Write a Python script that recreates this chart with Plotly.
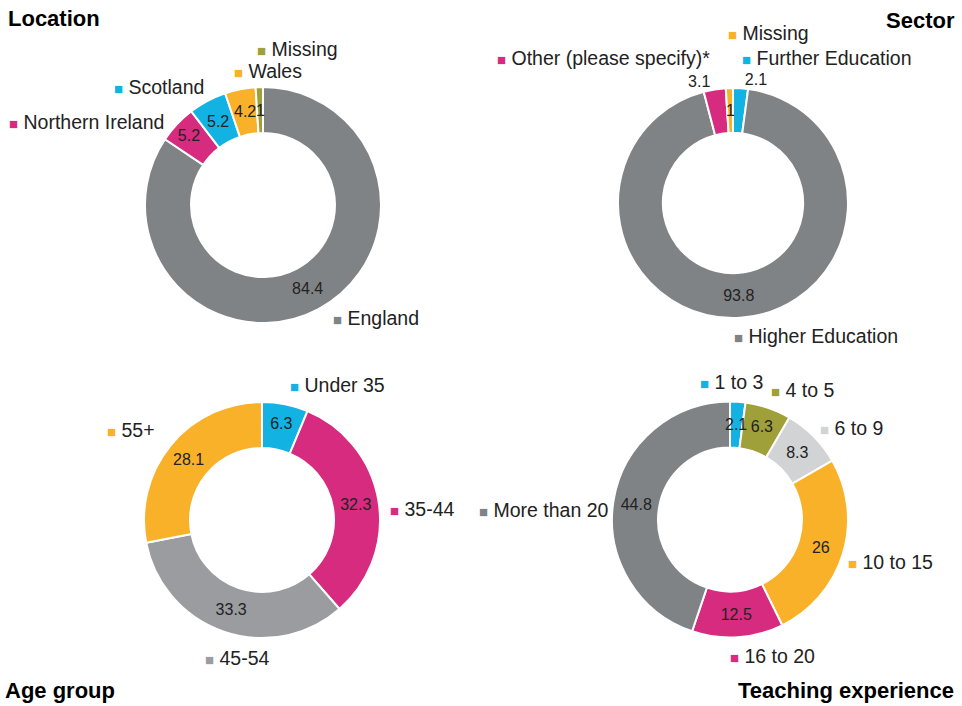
import math
import plotly.graph_objects as go

# ---------------- data ----------------
loc_labels = ["England", "Northern Ireland", "Scotland", "Wales", "Missing"]
loc_values = [84.4, 5.2, 5.2, 4.2, 1]

sec_labels = ["Further Education", "Higher Education", "Other (please specify)*", "Missing"]
sec_values = [2.1, 93.8, 3.1, 1]

age_labels = ["Under 35", "35-44", "45-54", "55+"]
age_values = [6.3, 32.3, 33.3, 28.1]

exp_labels = ["1 to 3", "4 to 5", "6 to 9", "10 to 15", "16 to 20", "More than 20"]
exp_values = [2.1, 6.3, 8.3, 26, 12.5, 44.8]

titles = ["Location", "Sector", "Age group", "Teaching experience"]

# ---------------- styles ----------------
DARK = "#808386"
PINK = "#D62B7E"
BLUE = "#12B2E3"
ORANGE = "#F9B12A"
OLIVE = "#9FA03A"
MID = "#9A9C9F"
LIGHT = "#D1D3D5"

loc_colors = [DARK, PINK, BLUE, ORANGE, OLIVE]
sec_colors = [BLUE, DARK, PINK, ORANGE]
age_colors = [BLUE, PINK, MID, ORANGE]
exp_colors = [BLUE, OLIVE, LIGHT, ORANGE, PINK, DARK]

W, H = 962, 706
FONT = "Liberation Sans, Arial, sans-serif"
HOLE = 0.61

# chart geometry: centre x, centre y, outer radius (pixels)
geom = [(263, 205, 118), (733, 203, 115), (262, 520, 118), (730, 519.5, 118)]

# value-text placement per slice: 'inside' (plotly), 'outside' (plotly), 'ring' (mid-ring, as in original)
text_modes = [
    ["inside", "inside", "ring", "ring", "ring"],
    ["outside", "inside", "outside", "ring"],
    ["inside"] * 4,
    ["ring", "inside", "inside", "inside", "inside", "inside"],
]


def dom(cx, cy, r):
    return dict(x=[(cx - r) / W, (cx + r) / W], y=[1 - (cy + r) / H, 1 - (cy - r) / H])


series = [
    (loc_labels, loc_values, loc_colors),
    (sec_labels, sec_values, sec_colors),
    (age_labels, age_values, age_colors),
    (exp_labels, exp_values, exp_colors),
]

fig = go.Figure()
annotations = []
for (labels, values, colors), (cx, cy, r), modes in zip(series, geom, text_modes):
    tpos = ["none" if m == "ring" else m for m in modes]
    fig.add_trace(go.Pie(
        labels=labels, values=values, sort=False, direction="clockwise", rotation=0,
        hole=HOLE, domain=dom(cx, cy, r),
        marker=dict(colors=colors, line=dict(color="white", width=2)),
        textinfo="value", textposition=tpos, insidetextorientation="horizontal",
        textfont=dict(family=FONT, size=16, color="#222222"),
        showlegend=False, hoverinfo="label+value",
    ))
    # value labels for thin slices, centred in the ring at the slice's mid-angle
    total = sum(values)
    cum = 0.0
    rm = r * (1 + HOLE) / 2
    for v, m in zip(values, modes):
        mid = (cum + v / 2) / total * 2 * math.pi
        cum += v
        if m != "ring":
            continue
        x = cx + rm * math.sin(mid)
        y = cy - rm * math.cos(mid)
        annotations.append(dict(
            x=x / W, y=1 - y / H, xref="paper", yref="paper",
            xanchor="center", yanchor="middle", showarrow=False,
            text=f"{v:g}", font=dict(family=FONT, size=16, color="#222222"),
        ))

# category label positions (left edge x, centre y, in pixels)
label_pos = [
    [(331, 318), (7, 122), (112, 87), (232, 71), (255, 49)],
    [(740, 58), (732, 336), (495, 58), (726, 33)],
    [(288, 385), (388, 509), (203, 658), (105, 430)],
    [(698, 382), (769, 390), (818, 428), (846, 562), (728, 656), (477, 510)],
]

for (labels, values, colors), pos in zip(series, label_pos):
    for lab, col, (px, py) in zip(labels, colors, pos):
        annotations.append(dict(
            x=px / W, y=1 - py / H, xref="paper", yref="paper",
            xanchor="left", yanchor="middle", showarrow=False,
            text=f"<span style='color:{col};font-size:15px'>■</span> {lab}",
            font=dict(family=FONT, size=19.5, color="#222222"),
        ))

title_pos = [(6, 18, "left"), (957, 20, "right"), (3, 690, "left"), (956, 690, "right")]
for t, (px, py, anc) in zip(titles, title_pos):
    annotations.append(dict(
        x=px / W, y=1 - py / H, xref="paper", yref="paper",
        xanchor=anc, yanchor="middle", showarrow=False,
        text=f"<b>{t}</b>",
        font=dict(family=FONT, size=22, color="#000000"),
    ))

fig.update_layout(
    width=W, height=H,
    margin=dict(l=0, r=0, t=0, b=0),
    paper_bgcolor="white", plot_bgcolor="white",
    annotations=annotations,
)

fig.write_html(
    "out.html",
    config={"displayModeBar": False},
    post_script="document.body.style.margin='0px';document.body.style.overflow='hidden';",
)
